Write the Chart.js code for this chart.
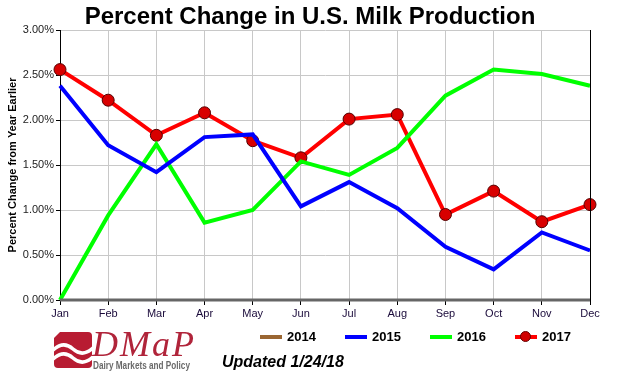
<!DOCTYPE html>
<html>
<head>
<meta charset="utf-8">
<script src="https://cdn.jsdelivr.net/npm/chart.js@4.4.1/dist/chart.umd.min.js"></script>
<style>
html,body{margin:0;padding:0;background:#fff;}
#wrap{position:relative;width:620px;height:380px;font-family:"Liberation Sans",Arial,sans-serif;}
#c{position:absolute;left:0;top:0;}
#title{position:absolute;left:0;top:2px;width:620px;text-align:center;font-weight:bold;font-size:24px;color:#000;}
#legend{position:absolute;top:329px;left:0;font-weight:bold;font-size:13px;color:#000;}
.li{position:absolute;white-space:nowrap;}
.sw{display:inline-block;width:22px;height:4px;vertical-align:middle;margin-right:5px;position:relative;top:-1px;}
#upd{position:absolute;left:222px;top:353px;font-weight:bold;font-style:italic;font-size:16px;color:#000;}
#logo{position:absolute;left:54px;top:332px;}
#dmap{position:absolute;left:92px;top:326px;font-family:"Liberation Serif",serif;font-style:italic;color:#b0243a;font-size:36px;line-height:36px;letter-spacing:2px;}
#dmp{position:absolute;left:93px;top:359px;font-family:"Liberation Sans",sans-serif;font-weight:bold;font-size:10.5px;color:#6a6a6a;white-space:nowrap;transform:scaleX(0.78);transform-origin:0 0;}
</style>
</head>
<body>
<div id="wrap">
<canvas id="c" width="620" height="380"></canvas>
<div id="title">Percent Change in U.S. Milk Production</div>
<div id="legend"></div>
<svg id="logo" width="38" height="36" viewBox="0 0 38 36">
<path d="M6 0 H34 Q38 0 38 4 V32 Q38 36 34 36 H4 Q0 36 0 32 V6 Z" fill="#b81c32"/>
<path d="M-2 19 Q9 8 19 17 T40 15" stroke="#fff" stroke-width="3.5" fill="none"/>
<path d="M-2 28 Q9 17 19 26 T40 24" stroke="#fff" stroke-width="3.5" fill="none"/>
</svg>
<div id="dmap">DMaP</div>
<div id="dmp">Dairy Markets and Policy</div>
<div id="upd">Updated 1/24/18</div>
</div>
<script>
const months = ["Jan","Feb","Mar","Apr","May","Jun","Jul","Aug","Sep","Oct","Nov","Dec"];
const yearLabels = ["2014","2015","2016","2017"];
const s2014 = [];
const s2015 = [2.38,1.72,1.42,1.81,1.84,1.04,1.31,1.02,0.59,0.34,0.75,0.55];
const s2016 = [0.00,0.94,1.73,0.86,1.00,1.54,1.39,1.69,2.27,2.56,2.51,2.38];
const s2017 = [2.56,2.22,1.83,2.08,1.77,1.58,2.01,2.06,0.95,1.21,0.87,1.06];
const colors = ["#9a6632","#0000ff","#00ff00","#ff0000"];

// HTML legend
const legX = [260, 345, 430, 515];
const leg = document.getElementById('legend');
yearLabels.forEach((y,i)=>{
  const d = document.createElement('div');
  d.className='li'; d.style.left=legX[i]+'px';
  if(i===3){
    d.innerHTML='<span class="sw" style="background:'+colors[i]+';position:relative"><span style="position:absolute;left:5px;top:-4px;width:11px;height:11px;border-radius:50%;background:#d00000;border:1px solid #600;box-sizing:border-box"></span></span>'+y;
  } else {
    d.innerHTML='<span class="sw" style="background:'+colors[i]+'"></span>'+y;
  }
  leg.appendChild(d);
});

const frame = {
  id:'frame',
  afterDraw(chart){
    const {ctx, chartArea:a} = chart;
    ctx.save();
    ctx.strokeStyle='#000'; ctx.lineWidth=1;
    ctx.beginPath(); ctx.moveTo(a.right+0.5,a.top); ctx.lineTo(a.right+0.5,a.bottom+5); ctx.stroke();
    ctx.strokeStyle='#666'; ctx.lineWidth=3;
    ctx.beginPath(); ctx.moveTo(a.left,a.bottom); ctx.lineTo(a.right,a.bottom); ctx.stroke();
    ctx.restore();
  }
};

new Chart(document.getElementById('c'), {
  type:'line',
  data:{
    labels: months,
    datasets:[
      {label:yearLabels[0], data:s2014, borderColor:colors[0], borderWidth:4, pointRadius:0},
      {label:yearLabels[1], data:s2015, borderColor:colors[1], borderWidth:4, pointRadius:0, tension:0},
      {label:yearLabels[2], data:s2016, borderColor:colors[2], borderWidth:4, pointRadius:0, tension:0},
      {label:yearLabels[3], data:s2017, borderColor:colors[3], borderWidth:4, pointRadius:6,
        pointBackgroundColor:'#d80000', pointBorderColor:'#500', pointBorderWidth:1, tension:0}
    ]
  },
  options:{
    responsive:false, animation:false,
    layout:{padding:{left:0,right:30,top:30,bottom:60}},
    plugins:{legend:{display:false}, tooltip:{enabled:false}},
    scales:{
      x:{
        offset:false,
        grid:{color:(c)=> c.index===0 ? '#000' : '#c8c8c8', lineWidth:1, tickLength:5, tickColor:'#000'},
        border:{display:false},
        ticks:{color:'#1a0a3a', font:{family:'Liberation Sans', size:11}, padding:2, maxRotation:0, autoSkip:false},
        afterFit(s){ s.height=20; }
      },
      y:{
        min:0, max:3,
        grid:{color:'#c8c8c8', tickLength:4, tickColor:'#000'},
        border:{display:true,color:'#000'},
        ticks:{stepSize:0.5, color:'#222', font:{family:'Liberation Sans', size:11}, padding:2,
          callback:(v)=> v.toFixed(2)+'%'},
        title:{display:true, text:'Percent Change from Year Earlier', color:'#000',
          font:{family:'Liberation Sans', size:11, weight:'bold'}, padding:{top:6,bottom:0}},
        afterFit(s){ s.width=60; }
      }
    }
  },
  plugins:[frame]
});
</script>
</body>
</html>
